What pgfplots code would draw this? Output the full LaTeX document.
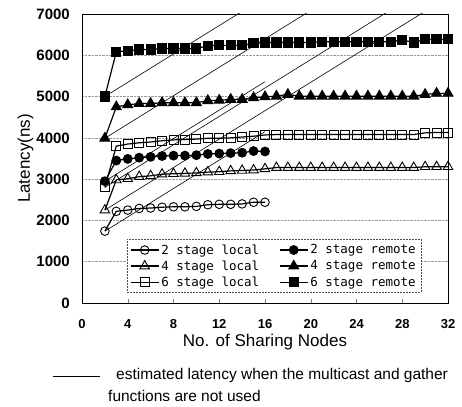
\documentclass[border=0pt]{standalone}
\usepackage{fontspec}
\setmainfont{Liberation Sans}
\newfontfamily\legfont{DejaVu Sans Mono}
\usepackage{pgfplots}
\pgfplotsset{compat=1.18}
\begin{document}
\begin{tikzpicture}[x=1pt,y=1pt]
\path[use as bounding box] (0,0) rectangle (462,406);
\begin{axis}[
  at={(82pt,103pt)}, anchor=south west,
  width=366pt, height=289pt, scale only axis,
  xmin=0, xmax=32, ymin=0, ymax=7000,
  xtick={0,4,...,32}, ytick={0,1000,...,7000},
  xtick pos=bottom, ytick style={draw=none},
  tick align=inside, major tick length=4pt,
  axis line style={black, line width=0.8pt},
  ymajorgrids, grid style={gray!80, densely dotted, line width=0.7pt},
  /pgf/number format/assume math mode=true,
  /pgf/number format/set thousands separator={},
  yticklabel style={font=\fontsize{15}{15}\selectfont\bfseries, anchor=east, inner sep=0pt, xshift=-12pt},
  xticklabel style={font=\fontsize{13}{13}\selectfont\bfseries, anchor=base, inner sep=0pt, yshift=-25.5pt},
  xlabel={No. of Sharing Nodes},
  xlabel style={at={(axis description cs:0.5,-0.1505)}, anchor=base, inner sep=0pt, font=\fontsize{17}{17}\selectfont},
  ylabel={Latency(ns)},
  ylabel style={at={(axis description cs:-0.1421,0.5)}, anchor=base, inner sep=0pt, font=\fontsize{17}{17}\selectfont},
  legend columns=2,
  legend cell align=left,
  legend style={at={(axis description cs:0.926,0.035)}, anchor=south east,
    draw=black!70, dash pattern=on 2pt off 1pt, fill=white,
    font=\legfont\fontsize{12.5}{12.5}\selectfont, inner sep=3pt, row sep=1pt,
    /tikz/every even column/.append style={column sep=18pt}},
  legend image code/.code={\draw[mark repeat=2,mark phase=2,#1] plot coordinates {(0pt,0pt) (14pt,0pt) (28pt,0pt)};},
  every axis plot/.append style={black, solid, line width=1.2pt},
]
% estimated latency lines (no multicast/gather)
\addplot[forget plot, line width=0.6pt, no marks] coordinates {(2,5000) (32,10160)};
\addplot[forget plot, line width=0.6pt, no marks] coordinates {(2,3990) (32,9150)};
\addplot[forget plot, line width=0.6pt, no marks] coordinates {(2,2950) (16,5360)};
\addplot[forget plot, line width=0.6pt, no marks] coordinates {(2,2800) (32,7960)};
\addplot[forget plot, line width=0.6pt, no marks] coordinates {(2,2250) (32,7410)};
\addplot[forget plot, line width=0.6pt, no marks] coordinates {(2,1740) (16,4150)};
% 2 stage local
\addplot[mark=o, mark size=4.3pt, mark options={solid, fill=white, line width=0.9pt}] coordinates {
(2,1740) (3,2220) (4,2250) (5,2290) (6,2300) (7,2320) (8,2330) (9,2330) (10,2340)
(11,2380) (12,2390) (13,2390) (14,2400) (15,2440) (16,2440)};
\addlegendentry{2 stage local}
% 2 stage remote
\addplot[mark=*, mark size=4.3pt, mark options={solid}] coordinates {
(2,2950) (3,3450) (4,3490) (5,3520) (6,3540) (7,3560) (8,3570) (9,3570) (10,3580)
(11,3610) (12,3620) (13,3630) (14,3640) (15,3680) (16,3670)};
\addlegendentry{2 stage remote}
% 4 stage local
\addplot[mark=triangle, mark size=5.5pt, mark options={solid, fill=white, line width=0.9pt}] coordinates {
(2,2250) (3,2980) (4,3010) (5,3060) (6,3080) (7,3120) (8,3130) (9,3140) (10,3150)
(11,3170) (12,3180) (13,3200) (14,3210) (15,3220) (16,3250) (17,3280) (18,3280)
(19,3280) (20,3280) (21,3280) (22,3280) (23,3280) (24,3280) (25,3280) (26,3280)
(27,3280) (28,3280) (29,3280) (30,3300) (31,3300) (32,3300)};
\addlegendentry{4 stage local}
% 4 stage remote
\addplot[mark=triangle*, mark size=5.5pt, mark options={solid}] coordinates {
(2,3990) (3,4750) (4,4800) (5,4830) (6,4830) (7,4850) (8,4850) (9,4850) (10,4850)
(11,4900) (12,4910) (13,4930) (14,4930) (15,4970) (16,4995) (17,5010) (18,5050)
(19,5010) (20,5010) (21,5010) (22,5010) (23,5010) (24,5010) (25,5010) (26,5010)
(27,5010) (28,5010) (29,5010) (30,5050) (31,5077) (32,5077)};
\addlegendentry{4 stage remote}
% 6 stage local
\addplot[mark=square, mark size=4.5pt, mark options={solid, fill=white, line width=0.9pt}] coordinates {
(2,2800) (3,3800) (4,3850) (5,3880) (6,3900) (7,3930) (8,3950) (9,3960) (10,3970)
(11,3990) (12,3990) (13,4000) (14,4020) (15,4040) (16,4070) (17,4080) (18,4080)
(19,4080) (20,4080) (21,4080) (22,4080) (23,4080) (24,4080) (25,4080) (26,4080)
(27,4080) (28,4080) (29,4080) (30,4120) (31,4130) (32,4130)};
\addlegendentry{6 stage local}
% 6 stage remote
\addplot[mark=square*, mark size=4.5pt, mark options={solid}] coordinates {
(2,5000) (3,6085) (4,6110) (5,6140) (6,6140) (7,6165) (8,6165) (9,6165) (10,6165)
(11,6230) (12,6240) (13,6240) (14,6240) (15,6290) (16,6310) (17,6310) (18,6310)
(19,6310) (20,6310) (21,6330) (22,6330) (23,6330) (24,6330) (25,6330) (26,6330)
(27,6330) (28,6370) (29,6310) (30,6385) (31,6385) (32,6385)};
\addlegendentry{6 stage remote}
\end{axis}
\draw[line width=0.8pt] (53,29.3) -- (100,29.3);
\node[anchor=base west, inner sep=0pt, font=\fontsize{15.5}{15.5}\selectfont] at (116,26) {estimated latency when the multicast and gather};
\node[anchor=base west, inner sep=0pt, font=\fontsize{15.5}{15.5}\selectfont] at (108,5) {functions are not used};
\end{tikzpicture}
\end{document}
